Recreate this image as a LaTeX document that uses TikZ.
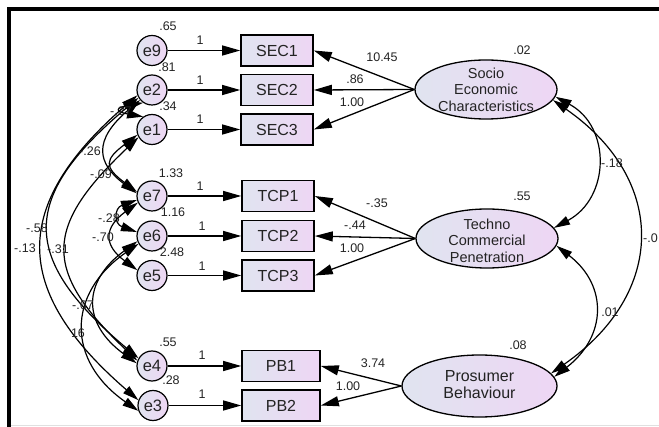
\documentclass[tikz,border=0pt]{standalone}
\usepackage{fontspec}
\setmainfont{Liberation Sans}
\usetikzlibrary{arrows.meta,shapes.geometric}
\definecolor{fl}{RGB}{224,228,240}
\definecolor{fr}{RGB}{238,214,244}
\definecolor{tx}{RGB}{35,35,35}
\begin{document}
\begin{tikzpicture}[x=1pt,y=-1pt,
  tip/.style={-{Triangle[length=18pt,width=10pt]}},
  cov/.style={{Triangle[length=16pt,width=9pt]}-{Triangle[length=16pt,width=9pt]}, line width=1.2pt},
  ln/.style={line width=1.3pt},
  err/.style={circle, draw, line width=1.2pt, minimum size=30pt, inner sep=0pt, left color=fl, right color=fr, text=tx, font=\fontsize{16.5}{16.5}\selectfont},
  obs/.style={rectangle, draw, line width=1.6pt, minimum width=72pt, minimum height=31pt, inner sep=0pt, left color=fl, right color=fr, text=tx, font=\fontsize{16}{16}\selectfont},
  lat/.style={ellipse, draw, line width=1.3pt, inner sep=0pt, left color=fl, right color=fr},
  lattext/.style={align=center, text=tx, inner sep=0pt},
  num/.style={font=\fontsize{12.5}{12.5}\selectfont, text=tx, inner sep=0pt},
]
\useasboundingbox (0,0) rectangle (659,427);
% frame
\draw[line width=3.5pt, line join=miter] (9,427) -- (9,9) -- (659,9);
\draw[black!12, line width=1pt] (11,425.5) -- (659,425.5);

% error terms
\node[err] (e9) at (152,50.5) {e9};
\node[err] (e2) at (152,90) {e2};
\node[err] (e1) at (152,129.5) {e1};
\node[err] (e7) at (152,196) {e7};
\node[err] (e6) at (152,236) {e6};
\node[err] (e5) at (152,275.5) {e5};
\node[err] (e4) at (152,366) {e4};
\node[err] (e3) at (153,405.5) {e3};

% observed variables
\node[obs] (sec1) at (277,50.5) {SEC1};
\node[obs] (sec2) at (277,90) {SEC2};
\node[obs] (sec3) at (277,129.5) {SEC3};
\node[obs] (tcp1) at (278,196) {TCP1};
\node[obs] (tcp2) at (278,236) {TCP2};
\node[obs] (tcp3) at (278,275.5) {TCP3};
\node[obs, minimum width=78pt] (pb1) at (281,366) {PB1};
\node[obs, minimum width=78pt] (pb2) at (281,405.5) {PB2};

% latent variables
\node[lat, minimum width=142pt, minimum height=59pt] (soc) at (486,89.5) {};
\node[lattext, font=\fontsize{14.5}{16.5}\selectfont] (soct) at (soc.center) {Socio\\Economic\\Characteristics};
\node[lat, minimum width=142pt, minimum height=59pt] (tec) at (487,238.5) {};
\node[lattext, font=\fontsize{14.5}{16.5}\selectfont] (tect) at ([yshift=-2pt]tec.center) {Techno\\Commercial\\Penetration};
\node[lat, minimum width=155pt, minimum height=62pt] (pro) at (479.5,386) {};
\node[lattext, font=\fontsize{16}{17}\selectfont] (prot) at ([yshift=1pt]pro.center) {Prosumer\\Behaviour};

% error paths
\foreach \e/\o in {e9/sec1,e2/sec2,e1/sec3,e7/tcp1,e6/tcp2,e5/tcp3,e4/pb1,e3/pb2}
  \draw[ln,tip] (\e) -- (\o);

% loadings
\draw[ln,tip] (soc.west) -- (sec1.east);
\draw[ln,tip] (soc.west) -- (sec2.east);
\draw[ln,tip] (soc.west) -- (sec3.east);
\draw[ln,tip] (tec.west) -- (tcp1.east);
\draw[ln,tip] (tec.west) -- (tcp2.east);
\draw[ln,tip] (tec.west) -- (tcp3.east);
\draw[ln,tip] (pro.west) -- (pb1.east);
\draw[ln,tip] (pro.west) -- (pb2.east);

% latent covariances
\draw[cov] (soc.-6) .. controls +(56,30) and +(56,-30) .. (tec.9);
\draw[cov] (tec.-6) .. controls +(52,40) and +(52,-40) .. (pro.7);
\draw[cov] (soc.-9) .. controls +(115,80) and +(115,-80) .. (pro.10);

% error covariances
\draw[cov] (e2.235) .. controls +(-28,5) and +(-28,-5) .. (e1.125);
\draw[cov] (e2.220) .. controls +(-47,40) and +(-40,-30) .. (e7.170);
\draw[cov] (e1.200) .. controls +(-33,25) and +(-33,-25) .. (e7.165);
\draw[cov] (e7.195) .. controls +(-23,8) and +(-23,-8) .. (e6.165);
\draw[cov] (e7.205) .. controls +(-34,25) and +(-34,-25) .. (e5.160);
\draw[cov] (e2.200) .. controls +(-127,110) and +(-127,-110) .. (e3.160);
\draw[cov] (e2.210) .. controls +(-119,100) and +(-119,-100) .. (e4.150);
\draw[cov] (e1.210) .. controls +(-95,90) and +(-95,-90) .. (e4.160);
\draw[cov] (e6.200) .. controls +(-55,40) and +(-55,-40) .. (e4.170);
\draw[cov] (e6.210) .. controls +(-72,50) and +(-72,-50) .. (e3.200);

% variances
\node[num] (v9) at (168,26) {.65};
\node[num] (v2) at (167,67) {.81};
\node[num] (v1) at (168,106) {.34};
\node[num] (v7) at (171,173) {1.33};
\node[num] (v6) at (173,212) {1.16};
\node[num] (v5) at (172,252) {2.48};
\node[num] (v4) at (168,342) {.55};
\node[num] (v3) at (171,380) {.28};
\node[num] (vs) at (522,50) {.02};
\node[num] (vt) at (522,196) {.55};
\node[num] (vp) at (518,345) {.08};

% path ones
\foreach \y in {40,80,119,186}
  \node[num] at (200,\y) {1};
\foreach \y in {226,266,355,394}
  \node[num] at (202,\y) {1};

% loadings labels
\node[num] (l1) at (382,57) {10.45};
\node[num] (l2) at (355,79) {.86};
\node[num] (l3) at (352,102) {1.00};
\node[num] (l4) at (377,203) {-.35};
\node[num] (l5) at (355,225) {-.44};
\node[num] (l6) at (352,248) {1.00};
\node[num] (l7) at (373,363) {3.74};
\node[num] (l8) at (348,386) {1.00};

% covariance labels
\node[num] (c1) at (612,163) {-.18};
\node[num] (c2) at (610,312) {.01};
\node[num, anchor=east] (c3) at (658,238) {-.0};
\node[num] (c4) at (121,111) {-.27};
\node[num] (c5) at (90,151) {-.26};
\node[num] (c6) at (101,174) {-.09};
\node[num] (c7) at (109,218) {-.28};
\node[num] (c8) at (103,237) {-.70};
\node[num] (c9) at (37,228) {-.58};
\node[num] (c10) at (25,248) {-.13};
\node[num] (c11) at (58,249) {-.31};
\node[num] (c12) at (83,305) {-.67};
\node[num] (c13) at (78,333) {16};
\end{tikzpicture}
\end{document}
